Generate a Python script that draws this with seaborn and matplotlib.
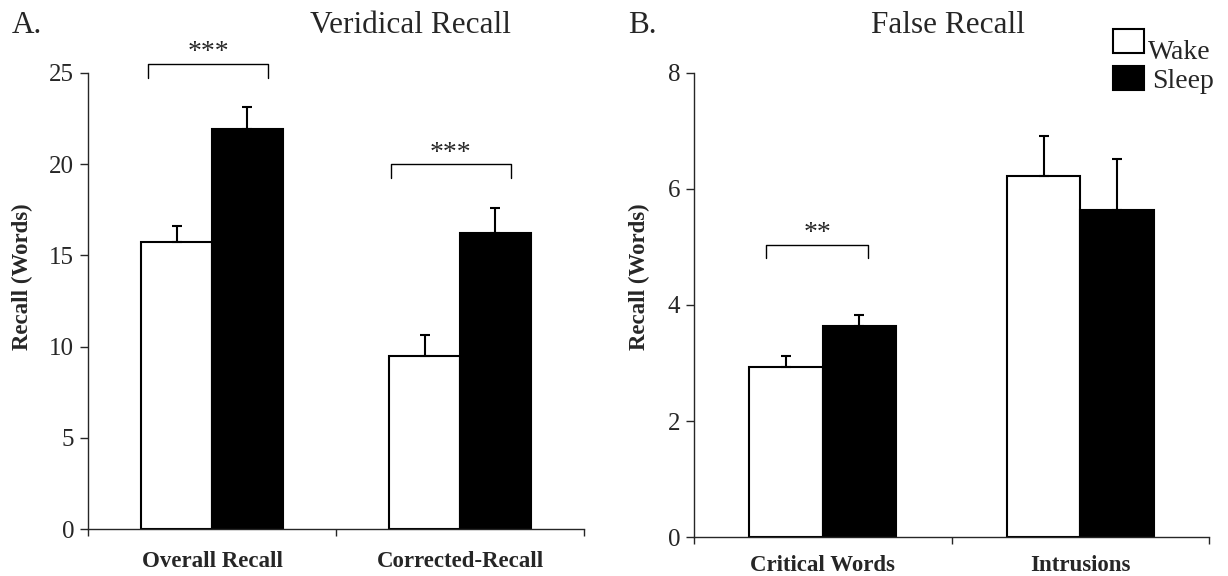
import matplotlib
matplotlib.use("Agg")
import matplotlib.pyplot as plt
import matplotlib.transforms as mtransforms
import seaborn as sns
import pandas as pd
from matplotlib.ticker import FixedLocator

# ---------------- data ----------------
conditions = ["Wake", "Sleep"]

veridical_categories = ["Overall Recall", "Corrected-Recall"]
veridical_wake = [15.75, 9.5]
veridical_sleep = [21.95, 16.25]
veridical_wake_err = [0.86, 1.13]
veridical_sleep_err = [1.16, 1.36]
veridical_ticks = [0, 5, 10, 15, 20, 25]

false_categories = ["Critical Words", "Intrusions"]
false_wake = [2.93, 6.23]
false_sleep = [3.63, 5.63]
false_wake_err = [0.19, 0.69]
false_sleep_err = [0.19, 0.89]
false_ticks = [0, 2, 4, 6, 8]

# significance brackets: (category index, left offset, right offset, bracket y, leg y, star y, label)
veridical_sig = [(0, -0.258, 0.226, 25.49, 24.72, 26.1, "***"),
                 (1, -0.28, 0.206, 19.99, 19.27, 20.56, "***")]
false_sig = [(0, -0.22, 0.176, 5.04, 4.81, 5.24, "**")]

# ---------------- style ----------------
sns.set_theme(style="ticks")
plt.rcParams['font.family'] = ['Liberation Serif', 'DejaVu Serif']
plt.rcParams['axes.linewidth'] = 1.0

fig = plt.figure(figsize=(12.28, 5.76), dpi=100)
axA = fig.add_axes([88/1228, 1-529/576, (584-88)/1228, (529-73)/576])
axB = fig.add_axes([694/1228, 1-537/576, (1209-694)/1228, (537-73)/576])

palette = {"Wake": "white", "Sleep": "black"}


def make_df(cats, wake, sleep):
    rows = []
    for c, w, s in zip(cats, wake, sleep):
        rows.append({"category": c, "condition": "Wake", "value": w})
        rows.append({"category": c, "condition": "Sleep", "value": s})
    return pd.DataFrame(rows)


def draw_panel(ax, cats, wake, sleep, wake_err, sleep_err, ticks, sigs,
               legend, xpad):
    df = make_df(cats, wake, sleep)
    sns.barplot(data=df, x="category", y="value", hue="condition",
                hue_order=conditions, order=cats, palette=palette,
                edgecolor="black", linewidth=1.5, width=0.57,
                errorbar=None, ax=ax, legend=legend, saturation=1)
    for container, errs in zip(ax.containers, [wake_err, sleep_err]):
        for bar, e in zip(container, errs):
            xc = bar.get_x() + bar.get_width() / 2
            h = bar.get_height()
            ax.errorbar(xc, h, yerr=[[0], [e]], fmt="none", ecolor="black",
                        elinewidth=1.5, capsize=3.3, capthick=1.5, zorder=1)
    ax.set_xlim(-0.5, len(cats) - 0.5)
    ax.set_ylim(ticks[0], ticks[-1])
    ax.set_yticks(ticks)
    ax.set_yticklabels([str(t) for t in ticks], fontsize=18)
    ax.tick_params(axis="y", direction="out", length=6, width=1.0, pad=4)
    ax.tick_params(axis="x", which="major", length=0, pad=xpad)
    ax.xaxis.set_minor_locator(FixedLocator([i - 0.5 for i in range(len(cats) + 1)]))
    ax.tick_params(axis="x", which="minor", direction="out", length=5, width=1.0)
    ax.set_xticks(range(len(cats)))
    ax.set_xticklabels(cats, fontsize=16.5, fontweight="bold")
    ax.set_xlabel("")
    ax.set_ylabel("Recall (Words)", fontsize=16.5, fontweight="bold")
    sns.despine(ax=ax)
    for ci, l, r, by, ly, sy, lab in sigs:
        ax.plot([ci + l, ci + l, ci + r, ci + r], [ly, by, by, ly],
                color="black", linewidth=1.0, clip_on=False)
        ax.text(ci + (l + r) / 2, sy, lab, ha="center", va="center",
                fontsize=20, clip_on=False)


draw_panel(axA, veridical_categories, veridical_wake, veridical_sleep,
           veridical_wake_err, veridical_sleep_err, veridical_ticks,
           veridical_sig, False, 16)
draw_panel(axB, false_categories, false_wake, false_sleep,
           false_wake_err, false_sleep_err, false_ticks, false_sig, True, 13)

# y-label placement (pixel-based, right edge of rotated label)
axA.yaxis.set_label_coords(-(88-33)/496, (529-277)/456)
axB.yaxis.set_label_coords(-(694-650)/515, (537-277)/464)

leg = axB.legend(loc="upper left", bbox_to_anchor=(1113/1228, 1-29/576),
                 bbox_transform=fig.transFigure, frameon=False,
                 fontsize=20, handlelength=1.1, handleheight=0.95,
                 handletextpad=0.15, labelspacing=0.35, borderpad=0,
                 borderaxespad=0)
for h in leg.legend_handles:
    h.set_edgecolor("black")
    h.set_linewidth(1.5)
# "Wake" label sits a little low relative to its box in the original
wake_txt = leg.get_texts()[0]
wake_txt.set_transform(wake_txt.get_transform() +
                       mtransforms.ScaledTranslation(0, -8/100, fig.dpi_scale_trans))
sleep_txt = leg.get_texts()[1]
sleep_txt.set_transform(sleep_txt.get_transform() +
                        mtransforms.ScaledTranslation(4/100, 0, fig.dpi_scale_trans))

fig.text(12/1228, 1-33/576, "A.", fontsize=22.5, ha="left", va="baseline")
fig.text(411/1228, 1-33/576, "Veridical Recall", fontsize=22.5, ha="center", va="baseline")
fig.text(628/1228, 1-33/576, "B.", fontsize=22.5, ha="left", va="baseline")
fig.text(948/1228, 1-33/576, "False Recall", fontsize=22.5, ha="center", va="baseline")

fig.savefig("out.png", dpi=100, facecolor="white")
